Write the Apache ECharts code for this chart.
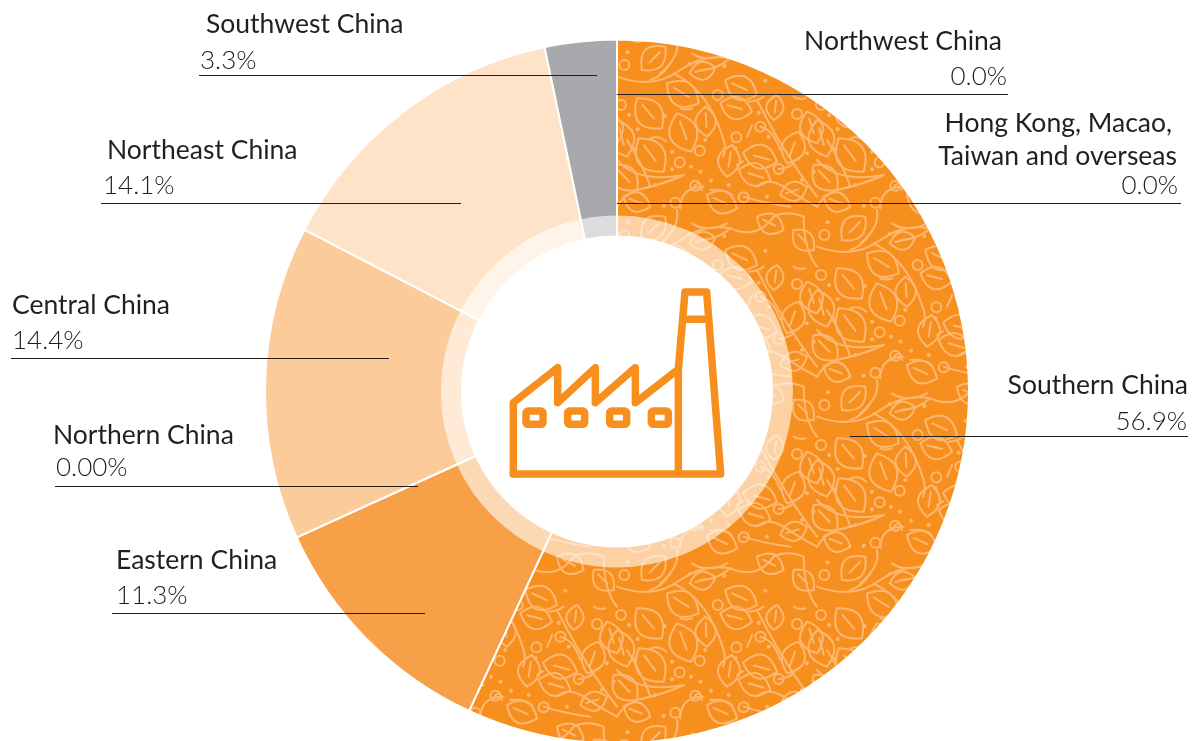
<!DOCTYPE html>
<html><head><meta charset="utf-8">
<style>html,body{margin:0;padding:0;background:#fff}#c{width:1195px;height:741px}</style>
<script src="https://cdn.jsdelivr.net/npm/echarts@6/dist/echarts.min.js"></script>
</head><body><div id="c"></div>
<script>
const categories = ['Northwest China','Hong Kong, Macao,\nTaiwan and overseas','Southern China','Eastern China','Northern China','Central China','Northeast China','Southwest China'];
const shares = [0.0,0.0,56.9,11.3,0.0,14.4,14.1,3.3];
const shareLabels = ['0.0%','0.0%','56.9%','11.3%','0.00%','14.4%','14.1%','3.3%'];
const sliceColors = ['#F78F1E','#F78F1E',null,'#F8A048','#FCCB9A','#FCCB9A','#FEE3C8','#A7A9AC'];

// label layout: [align, nameX, nameY(s), valueX, valueY, lineX0, lineX1, lineY]
const labelLayout = [
 ['right',[1002],[41],1007,77,617,1008,94],
 ['right',[1172],[123],1178,186,617,1181,203],
 ['right',[1188],[385],1187,422,850,1188,436],
 ['left',[116],[560],116,596,112,425,613],
 ['left',[53],[435],56,468,55,418,486],
 ['left',[12],[305],12,341,11,389,358],
 ['left',[107],[150],103,186,101,461,203],
 ['left',[206],[24],200,61,199,597,75]
];
const secondLine = {x:1177,y:156};

// leaf pattern tile (units: 3x of tile pixels), [baseX,baseY,tipX,tipY]
const tileLeaves = [[60,175,135,265],[180,220,222,335],[265,200,270,290],[310,190,405,215],[345,315,330,410],[65,295,140,395],[480,365,378,338],[460,420,365,390],[480,165,470,240],[510,370,545,275],[145,20,75,90],[218,100,295,82],[325,120,420,165],[150,130,245,190],[0,240,30,350],[490,465,570,440],[270,465,360,505],[-10,375,60,450],[570,215,600,310],[530,60,590,120],[420,20,500,60],[20,470,100,500]];
const tileRings = [[22,75],[12,195],[302,165],[358,292],[248,332],[188,367],[430,260],[540,222],[485,387],[175,488],[380,472],[235,437]];
const tileDots = [[32,37],[36,225],[62,267],[52,327],[143,228],[165,335],[165,388],[222,380],[250,395],[218,72],[322,78],[445,122],[425,218],[455,290],[355,325],[265,300],[115,435],[335,435],[282,422],[570,340],[590,395],[555,420],[140,497],[450,470]];
const tileCurves = [
 [[0,110],[110,150],[190,90]],[[190,90],[260,40],[340,55]],[[170,100],[275,150],[320,300]],[[320,300],[328,330],[318,350]],
 [[0,360],[60,430],[200,405]],[[200,405],[150,430],[60,450]],[[60,450],[20,465],[0,500]],[[420,180],[500,340],[600,470]],
 [[430,260],[470,270],[490,330]],[[485,387],[510,385],[530,370]],[[100,295],[125,285],[148,305]],[[390,290],[400,270],[405,255]],
 [[360,375],[385,360],[375,365]],[[225,450],[250,410],[255,450]],[[280,450],[320,445],[345,465]],[[190,505],[190,440],[260,440]],
 [[100,120],[135,110],[160,70]],[[190,205],[205,212],[225,205]],[[395,185],[420,185],[440,170]],[[530,170],[545,180],[565,175]],
 [[180,0],[190,50],[130,100]],[[225,40],[270,70],[330,40]],[[380,470],[440,490],[520,500]],
 [[340,55],[420,90],[470,20]],[[470,20],[510,0],[560,20]],[[340,55],[300,90],[250,90]],[[560,20],[560,120],[600,170]],
 [[420,440],[450,410],[500,440]],[[500,440],[560,480],[600,500]],[[100,440],[80,380],[30,300]]
];
function leafTile(){
  const W=200,H=170,cv=document.createElement('canvas');cv.width=W;cv.height=H;
  const g=cv.getContext('2d');g.fillStyle='#F78F1E';g.fillRect(0,0,W,H);
  g.strokeStyle='#FCB872';g.fillStyle='#FCB872';g.lineCap='round';g.lineJoin='round';
  const ox=617%W,oy=40%H;
  for(const dx of [-W,0,W])for(const dy of [-H,0,H]){
    g.save();g.translate(ox+dx,oy+dy);g.scale(1/3,1/3);g.lineWidth=6;
    for(const [bx,by,tx,ty] of tileLeaves){
      const mx=(bx+tx)/2,my=(by+ty)/2,nx=-(ty-by)*.72,ny=(tx-bx)*.72;
      g.beginPath();g.moveTo(bx,by);g.quadraticCurveTo(mx+nx,my+ny,tx,ty);g.quadraticCurveTo(mx-nx*.9,my-ny*.9,bx,by);g.stroke();
      g.beginPath();g.moveTo(bx+(tx-bx)*.22,by+(ty-by)*.22);g.lineTo(bx+(tx-bx)*.68,by+(ty-by)*.68);g.stroke();
    }
    for(const [x,y] of tileRings){g.beginPath();g.arc(x,y,15,0,7);g.stroke();}
    for(const [x,y] of tileDots){g.beginPath();g.arc(x,y,6,0,7);g.fill();}
    for(const [a,b,c] of tileCurves){g.beginPath();g.moveTo(a[0],a[1]);g.quadraticCurveTo(b[0],b[1],c[0],c[1]);g.stroke();}
    g.restore();
  }
  return cv;
}

// factory icon, traced in 3x units from origin (490,270)
const iconLines = [
 [[70,612],[70,398],[203,293],[203,398],[316,293],[316,398],[436,293],[436,398],[565,298]],
 [[70,612],[692,612],[650,66],[585,66],[565,298],[565,612]],
 [[590,148],[645,148]]
];
const iconWindows = [97,222,348,473];
const px = p => [490+p[0]/3,270+p[1]/3];
const iconEls = iconLines.map(l=>({type:'polyline',z:20,shape:{points:l.map(px)},style:{fill:null,stroke:'#F78F1E',lineWidth:7.5,lineJoin:'round',lineCap:'round'}}));
iconWindows.forEach(x=>{
  iconEls.push({type:'rect',z:20,shape:{x:490+(x+11)/3,y:270+423/3,width:51/3,height:40/3,r:2},style:{fill:'#fff',stroke:'#F78F1E',lineWidth:7.5}});
});

const FONT='Lato, "Open Sans", sans-serif';
const labelEls=[];
categories.forEach((c,i)=>{
  const [align,nx,ny,vx,vy,x0,x1,ly]=labelLayout[i];
  c.split('\n').forEach((t,k)=>labelEls.push({type:'text',z:30,x:k?secondLine.x:nx[0],y:k?secondLine.y:ny[0],style:{text:t,font:'400 26.5px '+FONT,fill:'#231F20',align:align,verticalAlign:'middle'}}));
  labelEls.push({type:'text',z:30,x:vx,y:vy,style:{text:shareLabels[i],font:'300 26px '+FONT,fill:'#1d1d1f',align:align,verticalAlign:'middle'}});
  labelEls.push({type:'line',z:25,shape:{x1:x0,y1:ly+.5,x2:x1,y2:ly+.5},style:{stroke:'#231F20',lineWidth:1.2}});
});

const pattern={image:leafTile(),repeat:'repeat'};
const pieData=categories.map((c,i)=>({name:c,value:shares[i],itemStyle:{color:sliceColors[i]||pattern}}));
const chart=echarts.init(document.getElementById('c'),null,{renderer:'canvas'});
chart.setOption({
  animation:false,
  backgroundColor:'#fff',
  tooltip:{show:false},
  series:[
    {type:'pie',center:[617,391.5],radius:[155,352],startAngle:90,clockwise:true,silent:true,stillShowZeroSum:true,
     label:{show:false},labelLine:{show:false},itemStyle:{borderColor:'#fff',borderWidth:2},data:pieData,z:2},
    {type:'pie',center:[617,391.5],radius:[155,176],startAngle:90,clockwise:true,silent:true,
     label:{show:false},labelLine:{show:false},itemStyle:{color:'rgba(255,255,255,0.6)',borderWidth:0},
     data:categories.map((c,i)=>({name:c,value:shares[i]})),z:3}
  ],
  graphic:{elements:iconEls.concat(labelEls)}
});
</script></body></html>
